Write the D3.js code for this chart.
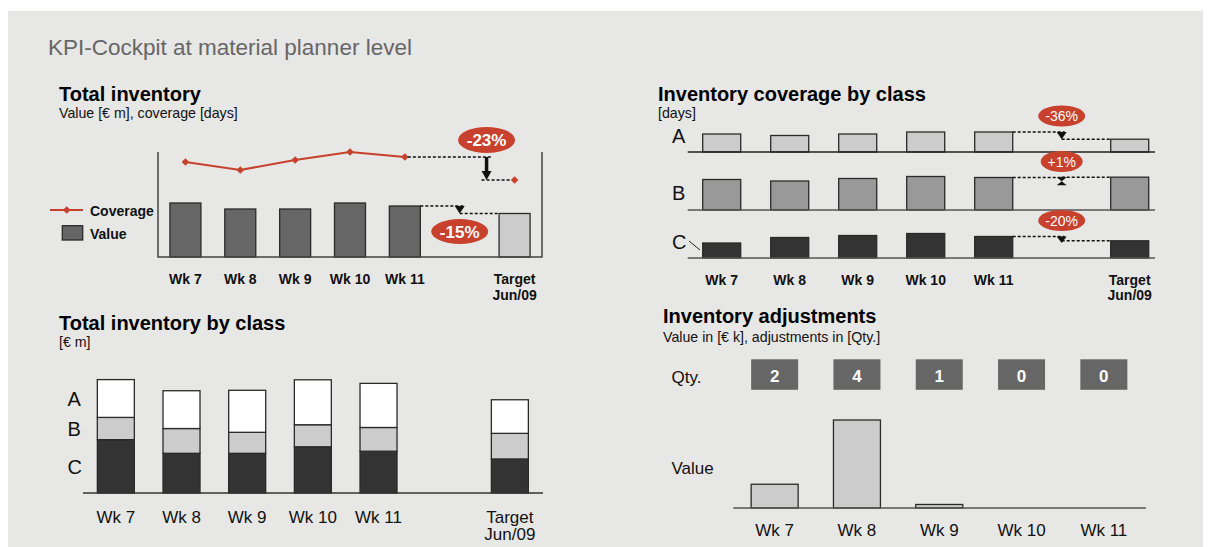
<!DOCTYPE html>
<html><head><meta charset="utf-8">
<script src="https://cdn.jsdelivr.net/npm/d3@7"></script>
<style>
body{margin:0;background:#fff;}
svg{display:block;}
text{font-family:"Liberation Sans",Arial,Helvetica,sans-serif;}
</style>
</head><body>
<svg id="c" width="1208" height="547"></svg>
<script>
// ---------- DATA ----------
const weeks = ["Wk 7", "Wk 8", "Wk 9", "Wk 10", "Wk 11"];
const targetLines = ["Target", "Jun/09"];

// Total inventory: value [€ m], coverage [days]
const invValue = [5.4, 4.8, 4.8, 5.4, 5.1];
const invValueTarget = 4.35;
const coverage = [47.5, 43.5, 48.5, 52.5, 50];
const coverageTarget = 38.5;
const invValueChange = "-15%";
const coverageChange = "-23%";

// Inventory coverage by class [days]
const covA = [36, 33, 36, 40, 40];
const covB = [61, 58, 63, 67, 65];
const covC = [30, 41, 45, 49, 43];
const covTargets = [25.6, 65.7, 34.4];
const covChanges = ["-36%", "+1%", "-20%"];

// Total inventory by class [€ m]
const classA = [1.8, 1.8, 2.0, 2.14, 2.1];
const classB = [1.06, 1.18, 1.0, 1.05, 1.13];
const classC = [2.54, 1.89, 1.89, 2.2, 1.99];
const classTarget = [1.6, 1.22, 1.62]; // A, B, C

// Inventory adjustments
const adjQty = [2, 4, 1, 0, 0];
const adjValue = [27, 100, 4, 0, 0];

// ---------- DRAWING ----------
const svg = d3.select("#c");
const RED = "#c8412c";
const FONT = '"Liberation Sans",Arial,Helvetica,sans-serif';

svg.append("rect").attr("x", 8).attr("y", 11).attr("width", 1195).attr("height", 536).attr("fill", "#e7e7e6");

function txt(g, x, y, s, size, opts = {}) {
  return g.append("text").attr("x", x).attr("y", y).text(s)
    .attr("font-size", size).attr("fill", opts.fill || "#111")
    .attr("font-weight", opts.bold ? "bold" : "normal")
    .attr("text-anchor", opts.anchor || "start");
}
function dashed(g, x1, y1, x2, y2) {
  g.append("line").attr("x1", x1).attr("y1", y1).attr("x2", x2).attr("y2", y2)
    .attr("stroke", "#111").attr("stroke-width", 1.5).attr("stroke-dasharray", "3,2");
}
function bubble(g, cx, cy, rx, ry, s, size, bold) {
  g.append("ellipse").attr("cx", cx).attr("cy", cy).attr("rx", rx).attr("ry", ry).attr("fill", RED);
  txt(g, cx, cy + size * 0.36, s, size, { fill: "#fff", bold: bold, anchor: "middle" });
}
function triDown(g, x, y0, y1, w) {
  g.append("path").attr("d", `M${x - w / 2},${y0}L${x + w / 2},${y0}L${x},${y1}Z`).attr("fill", "#111");
}
function xLabels(g, scale, keys, y, size, bold, lineGap) {
  const bw = scale.bandwidth();
  keys.forEach(k => {
    if (k === "gap") return;
    const cx = scale(k) + bw / 2;
    if (k === "Target") {
      targetLines.forEach((l, i) => txt(g, cx, y + i * lineGap, l, size, { bold, anchor: "middle" }));
    } else txt(g, cx, y, k, size, { bold, anchor: "middle" });
  });
}

// Main title
txt(svg, 48, 55, "KPI-Cockpit at material planner level", 22.5, { fill: "#666" });

const keys7 = weeks.concat(["gap", "Target"]);

// ===== Panel 1: Total inventory =====
{
  const g = svg.append("g");
  txt(g, 59, 100.5, "Total inventory", 20, { bold: true, fill: "#000" });
  txt(g, 59, 118, "Value [€ m], coverage [days]", 14.2);

  const p = 0.435;
  const x = d3.scaleBand().domain(keys7).range([158, 542]).paddingInner(p).paddingOuter(p / 2);
  const yV = d3.scaleLinear().domain([0, 10]).range([257, 157]);
  const yC = d3.scaleLinear().domain([0, 50]).range([257, 157]);
  const bw = x.bandwidth();
  const cx = k => x(k) + bw / 2;

  const bars = weeks.map((w, i) => ({ k: w, v: invValue[i], fill: "#666666" }))
    .concat([{ k: "Target", v: invValueTarget, fill: "#cccccc" }]);
  g.selectAll("rect.v").data(bars).enter().append("rect")
    .attr("x", d => x(d.k)).attr("y", d => yV(d.v)).attr("width", bw).attr("height", d => yV(0) - yV(d.v))
    .attr("fill", d => d.fill).attr("stroke", "#2a2a2a").attr("stroke-width", 1.3);

  // frame
  g.append("path").attr("d", `M158,152V257H542V152`).attr("fill", "none").attr("stroke", "#444").attr("stroke-width", 1.5);

  // coverage line
  const line = d3.line().x(d => cx(d.k)).y(d => yC(d.v));
  const cov = weeks.map((w, i) => ({ k: w, v: coverage[i] }));
  g.append("path").datum(cov).attr("d", line).attr("fill", "none").attr("stroke", RED).attr("stroke-width", 2);
  const diamond = "M0,-3.8L3.8,0L0,3.8L-3.8,0Z";
  g.selectAll("path.d").data(cov.concat([{ k: "Target", v: coverageTarget }])).enter().append("path")
    .attr("d", diamond).attr("transform", d => `translate(${cx(d.k)},${yC(d.v)})`).attr("fill", RED);

  // coverage annotation
  const ax = x("Target") - 12.5;
  const y11 = yC(coverage[4]), yT = yC(coverageTarget);
  dashed(g, cx("Wk 11") + 3, y11, ax + 5, y11);
  dashed(g, ax - 5, yT, cx("Target") - 3, yT);
  g.append("line").attr("x1", ax).attr("x2", ax).attr("y1", y11).attr("y2", yT - 7).attr("stroke", "#111").attr("stroke-width", 3.5);
  triDown(g, ax, yT - 9, yT, 10);
  bubble(g, ax, y11 - 17, 28.5, 13, coverageChange, 17, true);

  // value annotation
  const gx = cx("gap");
  const v11 = yV(invValue[4]), vT = yV(invValueTarget);
  dashed(g, x("Wk 11") + bw, v11, gx + 4, v11);
  triDown(g, gx, v11, vT, 10);
  dashed(g, gx, vT, x("Target"), vT);
  bubble(g, gx, vT + 18, 28.5, 12.5, invValueChange, 17, true);

  // legend
  g.append("line").attr("x1", 50).attr("x2", 83).attr("y1", 210).attr("y2", 210).attr("stroke", RED).attr("stroke-width", 2);
  g.append("path").attr("d", diamond).attr("transform", "translate(66.7,210)").attr("fill", RED);
  txt(g, 90, 215.7, "Coverage", 14, { bold: true });
  g.append("rect").attr("x", 62.3).attr("y", 225.7).attr("width", 20.4).attr("height", 14.3)
    .attr("fill", "#666").attr("stroke", "#2a2a2a").attr("stroke-width", 1.3);
  txt(g, 90, 239, "Value", 14, { bold: true });

  xLabels(g, x, keys7, 284, 14, true, 15.5);
}

// ===== Panel 2: Inventory coverage by class =====
{
  const g = svg.append("g");
  txt(g, 658, 100.5, "Inventory coverage by class", 20, { bold: true, fill: "#000" });
  txt(g, 658, 118, "[days]", 14.2);

  const p = 0.441;
  const x = d3.scaleBand().domain(keys7).range([687.7, 1163.7]).paddingInner(p).paddingOuter(p / 2);
  const h = d3.scaleLinear().domain([0, 100]).range([0, 50]);
  const bw = x.bandwidth();
  const gx = x("gap") + bw / 2;

  const rows = [
    { label: "A", base: 152, lab: 142.7, vals: covA, fill: "#cccccc" },
    { label: "B", base: 210, lab: 200, vals: covB, fill: "#999999" },
    { label: "C", base: 258, lab: 248.5, vals: covC, fill: "#333333" }
  ];
  rows.forEach((r, ri) => {
    const data = weeks.map((w, i) => ({ k: w, v: r.vals[i] })).concat([{ k: "Target", v: covTargets[ri] }]);
    g.selectAll(null).data(data).enter().append("rect")
      .attr("x", d => x(d.k)).attr("y", d => r.base - h(d.v)).attr("width", bw).attr("height", d => h(d.v))
      .attr("fill", r.fill).attr("stroke", "#2a2a2a").attr("stroke-width", 1.3);
    g.append("line").attr("x1", 687.7).attr("x2", 1155).attr("y1", r.base).attr("y2", r.base)
      .attr("stroke", ri === 0 ? "#222" : "#555").attr("stroke-width", 1.5);
    txt(g, 672, r.lab, r.label, 20);

    const y11 = r.base - h(r.vals[4]), yT = r.base - h(covTargets[ri]);
    dashed(g, x("Wk 11") + bw, y11, gx + 3, y11);
    dashed(g, gx, yT, x("Target"), yT);
    if (Math.abs(yT - y11) < 3) {
      const y0 = Math.min(yT, y11);
      g.append("path").attr("d", `M${gx - 5},${y0}L${gx + 5},${y0}L${gx},${y0 + 4}Z M${gx},${y0 + 4}L${gx + 5},${y0 + 8}L${gx - 5},${y0 + 8}Z`).attr("fill", "#111");
    } else {
      triDown(g, gx, y11, Math.max(yT, y11 + 6.5), 10);
    }
    bubble(g, gx, y11 - 16, covChanges[ri].length > 3 ? 23.5 : 21, 10.5, covChanges[ri], 14, false);
  });
  g.append("line").attr("x1", 689).attr("y1", 241).attr("x2", 700).attr("y2", 250).attr("stroke", "#222").attr("stroke-width", 1);

  xLabels(g, x, keys7, 284.5, 14, true, 15.5);
}

// ===== Panel 3: Total inventory by class =====
{
  const g = svg.append("g");
  txt(g, 59, 330, "Total inventory by class", 20, { bold: true, fill: "#000" });
  txt(g, 59, 346.5, "[€ m]", 14.2);

  const p = 0.4366;
  const x = d3.scaleBand().domain(keys7).range([83, 542.7]).paddingInner(p).paddingOuter(p / 2);
  const y = d3.scaleLinear().domain([0, 5.5]).range([493, 377.5]);
  const bw = x.bandwidth();

  const table = weeks.map((w, i) => ({ k: w, A: classA[i], B: classB[i], C: classC[i] }))
    .concat([{ k: "Target", A: classTarget[0], B: classTarget[1], C: classTarget[2] }]);
  const stack = d3.stack().keys(["C", "B", "A"])(table);
  const fills = { A: "#ffffff", B: "#cccccc", C: "#333333" };
  stack.forEach(s => {
    g.selectAll(null).data(s).enter().append("rect")
      .attr("x", d => x(d.data.k)).attr("y", d => y(d[1])).attr("width", bw).attr("height", d => y(d[0]) - y(d[1]))
      .attr("fill", fills[s.key]).attr("stroke", "#2a2a2a").attr("stroke-width", 1.3);
  });
  g.append("line").attr("x1", 83).attr("x2", 543).attr("y1", 493).attr("y2", 493).attr("stroke", "#333").attr("stroke-width", 1.5);

  txt(g, 67.5, 405.7, "A", 20);
  txt(g, 67.5, 436, "B", 20);
  txt(g, 67.5, 474, "C", 20);

  xLabels(g, x, keys7, 522.5, 17, false, 17);
}

// ===== Panel 4: Inventory adjustments =====
{
  const g = svg.append("g");
  txt(g, 663, 322.7, "Inventory adjustments", 20, { bold: true, fill: "#000" });
  txt(g, 663, 342.3, "Value in [€ k], adjustments in [Qty.]", 14.2);

  const p = 0.429;
  const x = d3.scaleBand().domain(weeks).range([733.5, 1145]).paddingInner(p).paddingOuter(p / 2);
  const y = d3.scaleLinear().domain([0, 100]).range([508, 420]);
  const bw = x.bandwidth();

  txt(g, 671.5, 382.7, "Qty.", 17);
  txt(g, 671.5, 474, "Value", 17);

  const q = weeks.map((w, i) => ({ k: w, q: adjQty[i], v: adjValue[i] }));
  g.selectAll("rect.q").data(q).enter().append("rect")
    .attr("x", d => x(d.k)).attr("y", 359.3).attr("width", bw).attr("height", 30.5).attr("fill", "#666");
  g.selectAll("text.q").data(q).enter().append("text")
    .attr("x", d => x(d.k) + bw / 2).attr("y", 382.3).attr("text-anchor", "middle")
    .attr("font-size", 17).attr("font-weight", "bold").attr("fill", "#fff").attr("font-family", FONT)
    .text(d => d.q);

  g.selectAll("rect.v").data(q.filter(d => d.v > 0)).enter().append("rect")
    .attr("x", d => x(d.k)).attr("y", d => y(d.v)).attr("width", bw).attr("height", d => y(0) - y(d.v))
    .attr("fill", "#cccccc").attr("stroke", "#2a2a2a").attr("stroke-width", 1.3);
  g.append("line").attr("x1", 733.3).attr("x2", 1146).attr("y1", 508).attr("y2", 508).attr("stroke", "#555").attr("stroke-width", 1.5);

  xLabels(g, x, weeks, 536, 17, false, 17);
}
</script>
</body></html>
